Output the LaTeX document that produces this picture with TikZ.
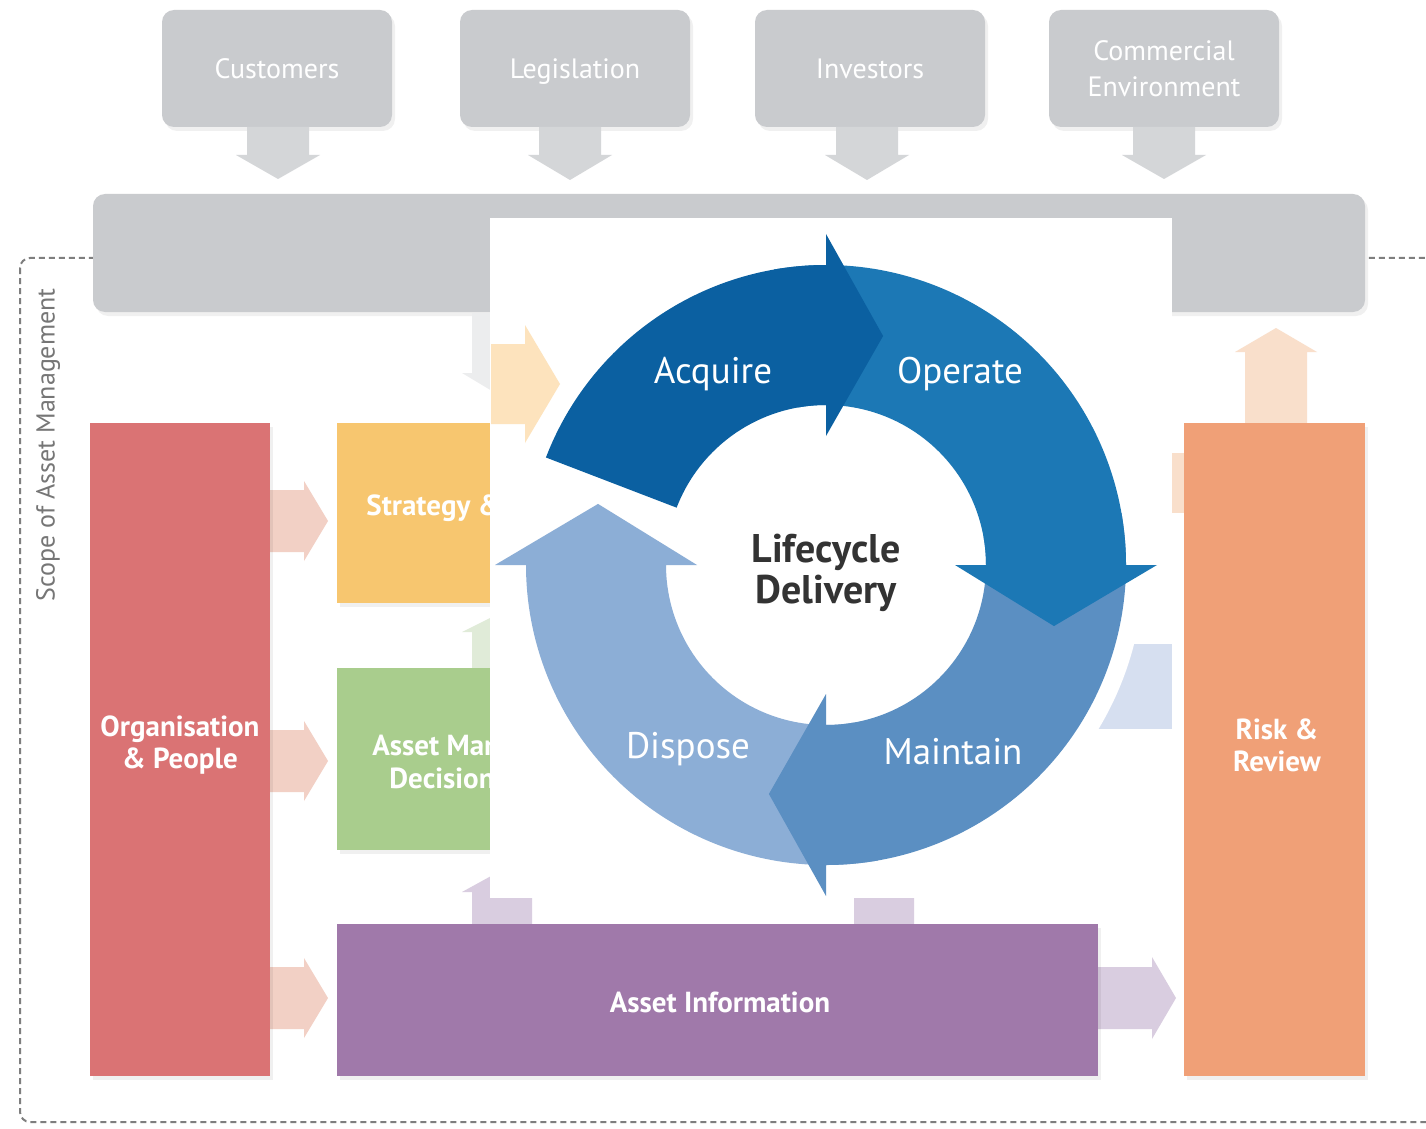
\documentclass[tikz,border=0pt]{standalone}
\usepackage{fontspec}
\setmainfont{PT Sans}
\usetikzlibrary{calc,shadows}
\definecolor{boxgray}{HTML}{C9CBCE}
\definecolor{arrgray}{HTML}{D4D6D8}
\definecolor{lightgrayarr}{HTML}{ECEDEE}
\definecolor{orgred}{HTML}{DA7374}
\definecolor{stratyellow}{HTML}{F7C66F}
\definecolor{amgreen}{HTML}{A9CD8D}
\definecolor{infopurple}{HTML}{A079AA}
\definecolor{riskorange}{HTML}{F0A077}
\definecolor{pinkarr}{HTML}{F2D0C5}
\definecolor{purplearr}{HTML}{D9CDE0}
\definecolor{greenarr}{HTML}{E0EBD8}
\definecolor{yellowarr}{HTML}{FDE3BD}
\definecolor{orangearr}{HTML}{F9DFCB}
\definecolor{bluearr}{HTML}{D6DFF0}
\definecolor{acqblue}{HTML}{0B60A1}
\definecolor{opblue}{HTML}{1C78B5}
\definecolor{mainblue}{HTML}{5B8FC2}
\definecolor{dispblue}{HTML}{8CAED6}
\definecolor{centertext}{HTML}{333333}
\definecolor{scopegray}{HTML}{767676}
\definecolor{dashgray}{HTML}{7E7E7E}
% vertical block arrow: color, x centre, y start, y head base, y tip, shaft half width, head half width
\newcommand{\arrV}[7]{\fill[#1] (#2-#6,#3) -- (#2-#6,#4) -- (#2-#7,#4) -- (#2,#5) -- (#2+#7,#4) -- (#2+#6,#4) -- (#2+#6,#3) -- cycle;}
% horizontal block arrow: color, y centre, x start, x head base, x tip, shaft half width, head half width
\newcommand{\arrH}[7]{\fill[#1] (#3,#2-#6) -- (#4,#2-#6) -- (#4,#2-#7) -- (#5,#2) -- (#4,#2+#7) -- (#4,#2+#6) -- (#3,#2+#6) -- cycle;}
% ring arrow: color, start angle, head base angle, tip angle
\newcommand{\ringarr}[4]{\fill[#1] (#2:300) arc[start angle=#2, end angle=#3, radius=300] -- (#3:331) -- (#4:236) -- (#3:129) -- (#3:160) arc[start angle=#3, end angle=#2, radius=160] -- cycle;}
\begin{document}
\begin{tikzpicture}[x=0.5pt,y=-0.5pt,
  softshadow/.style={drop shadow={shadow xshift=1.5pt, shadow yshift=-2pt, opacity=0.06, fill=black}},
  topbox/.style={fill=boxgray, softshadow, rounded corners=6pt, inner sep=0pt, minimum width=115pt, minimum height=58.5pt, text=white, align=center, font=\fontsize{14}{18}\selectfont},
  colbox/.style={inner sep=0pt, text=white, align=center, font=\bfseries\fontsize{14.5}{16}\selectfont},
  cutlbl/.style={anchor=west, inner sep=0pt, text=white, font=\bfseries\fontsize{14.5}{16}\selectfont},
  ringlbl/.style={text=white, font=\fontsize{18.5}{20}\selectfont},
  scopeline/.style={draw=dashgray, line width=1pt, dash pattern=on 3pt off 2pt}]
\useasboundingbox (0,0) rectangle (1426,1129);
\clip (0,0) rectangle (1426,1129);
\fill[white] (0,0) rectangle (1426,1129);

% scope border
\draw[scopeline, rounded corners=5pt] (20,258) rectangle (1480,1122);
\node[rotate=90, text=scopegray, font=\fontsize{13}{15}\selectfont] (scope) at (48,445) {Scope of Asset Management};

% top influences
\node[topbox, text depth=0pt] (cust) at (277,68.5) {Customers};
\node[topbox, text depth=0pt] (legis) at (575,68.5) {Legislation};
\node[topbox, text depth=0pt] (invest) at (870,68.5) {Investors};
\node[topbox] (comm) at (1164,68.5) {Commercial\\Environment};
\arrV{arrgray}{278}{127}{155}{179}{31}{42}
\arrV{arrgray}{570}{127}{155}{180}{31}{42}
\arrV{arrgray}{867}{127}{155}{180}{31}{42}
\arrV{arrgray}{1164}{127}{155}{179}{31}{42}

% grey bar
\node[fill=boxgray, softshadow, rounded corners=6pt, inner sep=0pt, minimum width=636pt, minimum height=59pt] (bar) at (729,253) {};

% light connector arrows
\arrV{lightgrayarr}{502}{313}{373}{397}{30}{40}
\arrV{greenarr}{502}{668}{632}{612}{30}{40}
\arrV{purplearr}{502}{924}{892}{870}{30}{40}
\arrV{purplearr}{884}{924}{892}{870}{30}{40}
\arrH{pinkarr}{521}{265}{304}{328}{31}{40}
\arrH{pinkarr}{761}{265}{304}{328}{31}{40}
\arrH{pinkarr}{998}{265}{304}{328}{31}{40}
\arrH{purplearr}{998}{1090}{1152}{1176}{31}{41}
\arrV{orangearr}{1276}{430}{352}{328}{31}{41}
\fill[orangearr] (1150,453) rectangle (1190,513);

% coloured blocks
\node[fill=orgred, softshadow, colbox, minimum width=90pt, minimum height=326.5pt] (org) at (180,749.5) {};
\node[colbox] (orgtxt) at (180,745) {Organisation\\\& People};
\node[fill=stratyellow, softshadow, inner sep=0pt, minimum width=104pt, minimum height=90pt] (strat) at (441,513) {};
\node[cutlbl] (strattxt) at (366,508) {Strategy \&};
\node[fill=amgreen, softshadow, inner sep=0pt, minimum width=104pt, minimum height=91pt] (amd) at (441,759) {};
\node[cutlbl] (amdtxt1) at (372,745) {Asset Man};
\node[cutlbl] (amdtxt2) at (389,778) {Decision};
\node[fill=infopurple, softshadow, colbox, minimum width=380.5pt, minimum height=76pt] (info) at (717.5,1000) {};
\node[colbox] (infotxt) at (720,1002) {Asset Information};
\node[fill=riskorange, softshadow, colbox, minimum width=90.5pt, minimum height=326.5pt] (risk) at (1274.5,749.5) {};
\node[colbox] (risktxt) at (1277,745) {Risk \&\\Review};

% lifecycle overlay
\fill[white] (490,218) rectangle (1172,898);
\arrH{yellowarr}{384}{491}{525}{560}{40}{59}
\fill[bluearr] (1070,644) rectangle (1172,729);
\begin{scope}[shift={(826,565)}]
  \fill[white] (0,0) circle[radius=318];
  \ringarr{dispblue}{80}{180}{195}
  \ringarr{mainblue}{-10}{90}{104}
  \ringarr{opblue}{-100}{0}{15}
  \ringarr{acqblue}{-159}{-90}{-76}
\end{scope}
\node[ringlbl] (acq) at (713,374) {Acquire};
\node[ringlbl] (oper) at (960,374) {Operate};
\node[ringlbl] (maint) at (953,752) {Maintain};
\node[ringlbl] (disp) at (688,749) {Dispose};
\node[text=centertext, align=center, font=\bfseries\fontsize{20}{20.5}\selectfont] (life) at (826,573) {Lifecycle\\Delivery};
\end{tikzpicture}
\end{document}
